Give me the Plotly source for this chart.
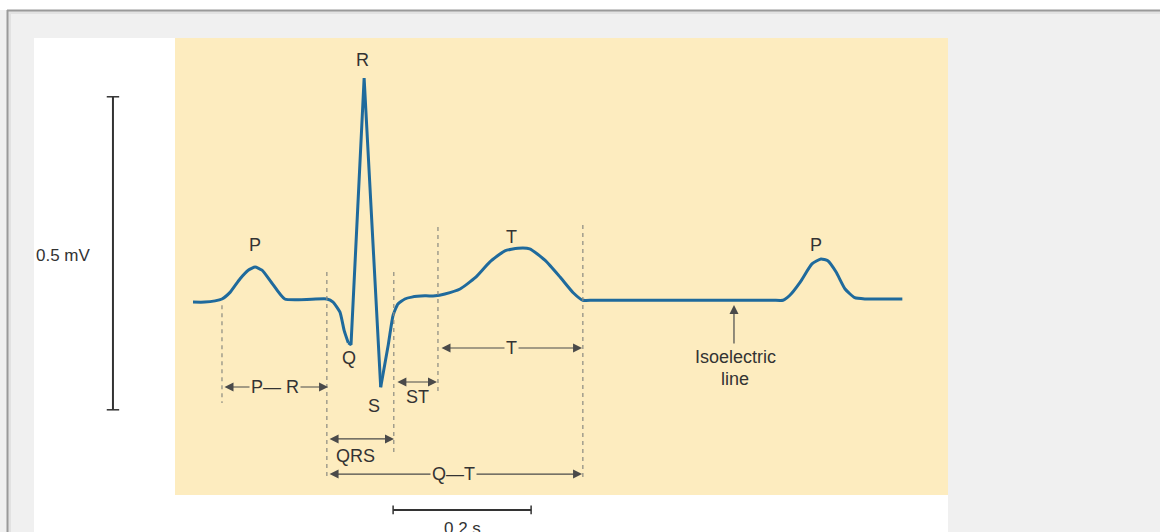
import plotly.graph_objects as go

# ---------------- data (time in ms, amplitude in mV) ----------------
time_ms = [0, 17, 32, 42, 54, 68, 80, 90, 100, 114, 133, 194, 203, 213, 219, 225, 229,
           248, 272, 283, 290, 297, 307, 317, 336, 351, 365, 387, 409, 430, 452, 471,
           488, 510, 532, 551, 565, 580, 700, 840, 855, 865, 880, 897, 910, 920, 932, 945,
           959, 974, 1028]
ecg_mv = [-0.005, -0.005, -0.003, 0.0, 0.011, 0.032, 0.046, 0.051, 0.046, 0.026, 0.0, 0.0,
          -0.005, -0.021, -0.050, -0.070, -0.073, 0.353, -0.141, -0.073, -0.026, -0.008,
          0.0, 0.003, 0.005, 0.005, 0.008, 0.016, 0.034, 0.059, 0.077, 0.081, 0.080, 0.062,
          0.035, 0.010, -0.002, -0.002, -0.002, -0.002, -0.002, 0.006, 0.027, 0.056, 0.064,
          0.061, 0.043, 0.016, 0.002, 0.0, 0.0]

# sharp QRS complex runs from the Q trough to the S trough (indices into the arrays)
qrs_first, qrs_last = 15, 18

# wave labels
wave_labels = ["R", "P", "Q", "S", "T", "P"]
wave_label_t = [246, 90, 226, 262, 462, 903]
wave_label_mv = [0.382, 0.086, -0.094, -0.171, 0.099, 0.086]

# interval markers
interval_names = ["P— R", "ST", "QRS", "Q—T", "T"]
interval_start = [43.5, 294, 195.7, 195.7, 358]
interval_end = [195.7, 353.6, 291.3, 563.8, 563.8]
interval_level = [-0.1406, -0.1326, -0.2236, -0.2796, -0.0783]
interval_label_t = [119, 326, 236, 377, 461]
interval_label_mv = [-0.1406, -0.157, -0.250, -0.2796, -0.0783]
interval_label_bg = [True, False, False, True, True]

# dashed boundary lines: time ms, top mV, bottom mV
boundary_t = [42, 194, 291, 355, 565]
boundary_top = [-0.010, 0.043, 0.043, 0.115, 0.118]
boundary_bottom = [-0.166, -0.289, -0.249, -0.153, -0.289]

# scale bars
scale_mv = 0.5
scale_mv_top = 0.323
scale_mv_t = -116
scale_s = 200  # ms
scale_s_start = 290
scale_s_level = -0.337

# isoelectric pointer
iso_t = 784
iso_from, iso_to = -0.0735, -0.0096

# ---------------- styling ----------------
W, H = 1160, 532
YELLOW = "#fdecbf"
WAVE = "#1f6a9c"
TXT = "#333333"
FONT = "Liberation Sans, Arial, sans-serif"


def px(x):
    return x / W


def py(y):
    return 1 - y / H


fig = go.Figure()
segments = [
    (0, qrs_first + 1, "spline"),
    (qrs_first, qrs_last + 1, "linear"),
    (qrs_last, len(time_ms), "spline"),
]
for a, b, shp in segments:
    line = dict(color=WAVE, width=3, shape=shp)
    if shp == "spline":
        line["smoothing"] = 0.5
    fig.add_trace(go.Scatter(x=time_ms[a:b], y=ecg_mv[a:b], mode="lines", line=line,
                             hoverinfo="skip", showlegend=False))

shapes = [
    dict(type="rect", xref="paper", yref="paper", x0=0, x1=1, y0=py(10), y1=1,
         fillcolor="white", line_width=0, layer="below"),
    dict(type="rect", xref="paper", yref="paper", x0=px(8), x1=1, y0=0, y1=py(11),
         fillcolor="#e2e2e2", line_width=0, layer="below"),
    dict(type="rect", xref="paper", yref="paper", x0=px(11), x1=1, y0=0, y1=py(14),
         fillcolor="#f0f0f0", line_width=0, layer="below"),
    dict(type="line", xref="paper", yref="paper", x0=px(7), x1=1, y0=py(10.5), y1=py(10.5),
         line=dict(color="#9a9a9a", width=2), layer="below"),
    dict(type="line", xref="paper", yref="paper", x0=px(7.5), x1=px(7.5), y0=0, y1=py(10),
         line=dict(color="#9a9a9a", width=2), layer="below"),
    dict(type="rect", xref="paper", yref="paper", x0=px(34), x1=px(948), y0=0, y1=py(38),
         fillcolor="white", line_width=0, layer="below"),
    dict(type="rect", xref="paper", yref="paper", x0=px(175), x1=px(948), y0=py(495), y1=py(38),
         fillcolor=YELLOW, line_width=0, layer="below"),
]

for t, top, bot in zip(boundary_t, boundary_top, boundary_bottom):
    shapes.append(dict(type="line", xref="x", yref="y", x0=t, x1=t, y0=top, y1=bot,
                       line=dict(color="#8a8a80", width=1.2, dash="4px,4px")))

cap_t = 9
shapes += [
    dict(type="line", xref="x", yref="y", x0=scale_mv_t, x1=scale_mv_t,
         y0=scale_mv_top, y1=scale_mv_top - scale_mv, line=dict(color="#333", width=2)),
    dict(type="line", xref="x", yref="y", x0=scale_mv_t - cap_t, x1=scale_mv_t + cap_t,
         y0=scale_mv_top, y1=scale_mv_top, line=dict(color="#333", width=1.5)),
    dict(type="line", xref="x", yref="y", x0=scale_mv_t - cap_t, x1=scale_mv_t + cap_t,
         y0=scale_mv_top - scale_mv, y1=scale_mv_top - scale_mv, line=dict(color="#333", width=1.5)),
]
cap_mv = 0.007
shapes += [
    dict(type="line", xref="x", yref="y", x0=scale_s_start, x1=scale_s_start + scale_s,
         y0=scale_s_level, y1=scale_s_level, line=dict(color="#333", width=2)),
    dict(type="line", xref="x", yref="y", x0=scale_s_start, x1=scale_s_start,
         y0=scale_s_level - cap_mv, y1=scale_s_level + cap_mv, line=dict(color="#333", width=1.5)),
    dict(type="line", xref="x", yref="y", x0=scale_s_start + scale_s, x1=scale_s_start + scale_s,
         y0=scale_s_level - cap_mv, y1=scale_s_level + cap_mv, line=dict(color="#333", width=1.5)),
]

annotations = []
font = dict(family=FONT, size=18, color=TXT)

for lab, t, v in zip(wave_labels, wave_label_t, wave_label_mv):
    annotations.append(dict(x=t, y=v, xref="x", yref="y", text=lab, showarrow=False,
                            font=font, xanchor="center", yanchor="middle"))

for name, s, e, lv, lt, lm, bg in zip(interval_names, interval_start, interval_end,
                                      interval_level, interval_label_t, interval_label_mv,
                                      interval_label_bg):
    annotations.append(dict(x=e, y=lv, ax=s, ay=lv, xref="x", yref="y", axref="x", ayref="y",
                            text="", showarrow=True, arrowhead=2, startarrowhead=2,
                            arrowside="end+start", arrowsize=1.5, arrowwidth=1.2,
                            arrowcolor="#4a4a4a", standoff=0, startstandoff=0))
    annotations.append(dict(x=lt, y=lm, xref="x", yref="y", text=name, showarrow=False,
                            font=font, xanchor="center", yanchor="middle",
                            bgcolor=YELLOW if bg else None, borderpad=1))

annotations.append(dict(x=iso_t, y=iso_to, ax=iso_t, ay=iso_from, xref="x", yref="y",
                        axref="x", ayref="y", text="", showarrow=True, arrowhead=2,
                        arrowsize=1.5, arrowwidth=1.2, arrowcolor="#4a4a4a", standoff=0))
annotations.append(dict(x=786, y=-0.093, xref="x", yref="y", text="Isoelectric",
                        showarrow=False, font=font))
annotations.append(dict(x=786, y=-0.128, xref="x", yref="y", text="line",
                        showarrow=False, font=font))

annotations.append(dict(x=-230.4, y=0.0687, xref="x", yref="y", text="0.5 mV",
                        showarrow=False, font=dict(family=FONT, size=17, color=TXT),
                        xanchor="left", yanchor="middle"))
annotations.append(dict(x=scale_s_start + scale_s / 2, y=-0.366, xref="x", yref="y",
                        text="0.2 s", showarrow=False,
                        font=dict(family=FONT, size=17, color=TXT),
                        xanchor="center", yanchor="middle"))

fig.update_layout(
    width=W, height=H,
    margin=dict(l=0, r=0, t=0, b=0),
    paper_bgcolor="#f0f0f0",
    plot_bgcolor="rgba(0,0,0,0)",
    xaxis=dict(range=[-279.7, 1401.4], visible=False, fixedrange=True),
    yaxis=dict(range=[-0.3722, 0.4776], visible=False, fixedrange=True),
    shapes=shapes,
    annotations=annotations,
    showlegend=False,
)

fig.write_html("out.html", config={"displayModeBar": False},
               post_script="document.body.style.margin='0';document.body.style.overflow='hidden';")
